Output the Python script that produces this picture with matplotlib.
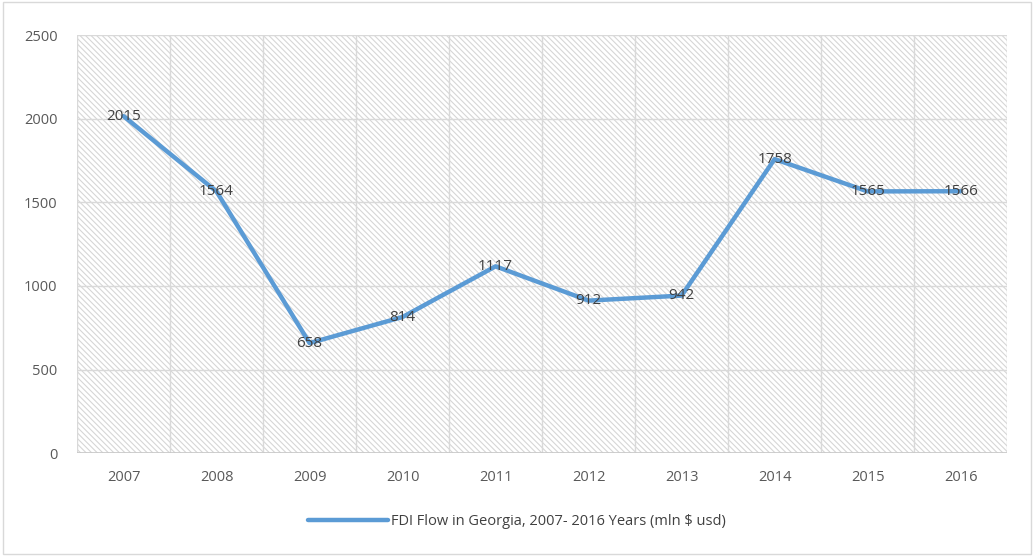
import matplotlib.pyplot as plt
from matplotlib.patches import Rectangle

# ── data ──────────────────────────────────────────────────────────────────────
years = ["2007", "2008", "2009", "2010", "2011", "2012", "2013", "2014", "2015", "2016"]
fdi = [2015, 1564, 658, 814, 1117, 912, 942, 1758, 1565, 1566]
series_name = "FDI Flow in Georgia, 2007- 2016 Years (mln $ usd)"
y_ticks = [0, 500, 1000, 1500, 2000, 2500]

plt.rcParams["font.family"] = ["Open Sans", "DejaVu Sans"]
plt.rcParams["hatch.linewidth"] = 0.8

fig = plt.figure(figsize=(10.34, 5.56), dpi=100)
ax = fig.add_axes([0.0745, 0.185, 0.8995, 0.752])

x = list(range(len(years)))

# hatched plot area (edgecolor drives the hatch colour, lw=0 hides the border)
ax.add_patch(Rectangle((0, 0), 1, 1, transform=ax.transAxes, facecolor="white",
                       edgecolor="#d6d6d6", lw=0, hatch="\\" * 6, zorder=0.5))

# grid
for yv in y_ticks:
    ax.axhline(yv, color="#d9d9d9", lw=1.0, zorder=1)
for i in range(len(years) + 1):
    ax.axvline(i - 0.5, color="#d9d9d9", lw=1.0, zorder=1)
ax.axhline(0, color="#c8c8c8", lw=1.2, zorder=1.5)

line, = ax.plot(x, fdi, color="#5b9bd5", lw=3.2, zorder=3, label=series_name,
                solid_capstyle="round", solid_joinstyle="round")

for xi, v in zip(x, fdi):
    ax.text(xi, v, str(v), ha="center", va="center", fontsize=11,
            color="#404040", zorder=4)

ax.set_xlim(-0.5, len(years) - 0.5)
ax.set_ylim(0, 2500)
ax.set_xticks(x)
ax.set_xticklabels(years)
ax.set_yticks(y_ticks)
ax.tick_params(axis="both", length=0, labelsize=10.5, colors="#595959")
ax.tick_params(axis="x", pad=12)
ax.tick_params(axis="y", pad=14)
for s in ax.spines.values():
    s.set_visible(False)

leg = fig.legend(handles=[line], loc="lower center", bbox_to_anchor=(0.5, 0.025),
                 frameon=False, fontsize=10.5, handlelength=5.5, handletextpad=0.2)
for t in leg.get_texts():
    t.set_color("#404040")

# outer chart border
fig.patches.append(Rectangle((0.003, 0.003), 0.994, 0.994, transform=fig.transFigure,
                             fill=False, edgecolor="#d9d9d9", lw=1.0))

fig.savefig("out.png", dpi=100)
